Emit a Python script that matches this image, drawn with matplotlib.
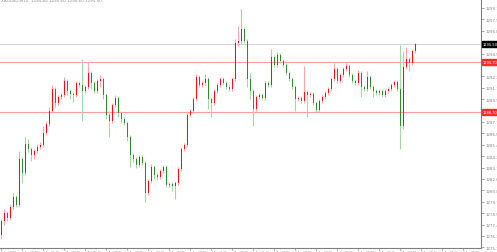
import numpy as np
import matplotlib
matplotlib.use("Agg")
import matplotlib.pyplot as plt

# XAUUSD M15 candles (price units)
opens = [1276.4, 1277.8, 1278.6, 1278.1, 1279.2, 1280.2, 1279.4, 1284.0, 1282.6, 1285.5,
         1285.0, 1284.4, 1284.8, 1285.2, 1285.4, 1286.6, 1287.5, 1288.8, 1291.0, 1289.6,
         1290.2, 1290.4, 1291.8, 1290.8, 1290.5, 1290.4, 1291.6, 1291.4, 1290.8, 1291.2,
         1292.6, 1291.6, 1290.8, 1291.8, 1292.0, 1290.4, 1288.4, 1287.8, 1289.4, 1290.1,
         1288.6, 1288.0, 1287.6, 1286.2, 1284.4, 1284.0, 1283.4, 1284.2, 1283.6, 1280.6,
         1281.8, 1283.2, 1282.4, 1282.2, 1282.8, 1283.2, 1281.4, 1281.5, 1281.3, 1281.6,
         1283.0, 1285.0, 1285.4, 1288.4, 1288.8, 1290.0, 1292.2, 1291.4, 1291.6, 1292.0,
         1290.0, 1289.6, 1290.8, 1291.4, 1292.0, 1291.6, 1291.2, 1291.0, 1292.0, 1295.6,
         1295.8, 1297.0, 1295.8, 1292.0, 1290.8, 1289.0, 1290.2, 1290.4, 1290.1, 1291.6,
         1291.4, 1294.2, 1293.4, 1294.4, 1293.8, 1293.4, 1292.6, 1292.0, 1291.2, 1290.0,
         1290.1, 1289.8, 1290.7, 1290.4, 1290.5, 1289.6, 1288.9, 1289.8, 1290.2, 1290.6,
         1291.0, 1292.0, 1293.0, 1291.8, 1292.4, 1293.0, 1293.3, 1292.4, 1291.8, 1291.6,
         1292.6, 1291.2, 1291.0, 1292.2, 1291.2, 1290.8, 1290.6, 1290.8, 1290.4, 1290.8,
         1291.0, 1291.4, 1291.7, 1291.0, 1287.3, 1293.2, 1294.0, 1293.6, 1294.8]
closes = [1277.8, 1278.6, 1278.1, 1279.2, 1280.2, 1279.4, 1284.0, 1282.6, 1285.5, 1285.0,
          1284.4, 1284.8, 1285.2, 1285.4, 1286.6, 1287.5, 1288.8, 1291.0, 1289.6, 1290.2,
          1290.4, 1291.8, 1290.8, 1290.5, 1290.4, 1291.6, 1291.4, 1290.8, 1291.2, 1292.6,
          1291.6, 1290.8, 1291.8, 1292.0, 1290.4, 1288.4, 1287.8, 1289.4, 1290.1, 1288.6,
          1288.0, 1287.6, 1286.2, 1284.4, 1284.0, 1283.4, 1284.2, 1283.6, 1280.6, 1281.8,
          1283.2, 1282.4, 1282.2, 1282.8, 1283.2, 1281.4, 1281.5, 1281.3, 1281.6, 1283.0,
          1285.0, 1285.4, 1288.4, 1288.8, 1290.0, 1292.2, 1291.4, 1291.6, 1292.0, 1290.0,
          1289.6, 1290.8, 1291.4, 1292.0, 1291.6, 1291.2, 1291.0, 1292.0, 1295.6, 1295.8,
          1297.0, 1295.8, 1292.0, 1290.8, 1289.0, 1290.2, 1290.4, 1290.1, 1291.6, 1291.4,
          1294.2, 1293.4, 1294.4, 1293.8, 1293.4, 1292.6, 1292.0, 1291.2, 1290.0, 1290.1,
          1289.8, 1290.7, 1290.4, 1290.5, 1289.6, 1288.9, 1289.8, 1290.2, 1290.6, 1291.0,
          1292.0, 1293.0, 1291.8, 1292.4, 1293.0, 1293.3, 1292.4, 1291.8, 1291.6, 1292.6,
          1291.2, 1291.0, 1292.2, 1291.2, 1290.8, 1290.6, 1290.8, 1290.4, 1290.8, 1291.0,
          1291.4, 1291.7, 1291.0, 1287.3, 1293.2, 1294.0, 1293.6, 1294.8, 1295.5]
highs = [1278.0, 1279.0, 1278.8, 1279.5, 1280.6, 1280.4, 1284.8, 1284.2, 1286.2, 1286.0,
         1285.2, 1285.0, 1285.5, 1285.7, 1287.3, 1287.8, 1289.2, 1291.4, 1291.2, 1290.4,
         1290.6, 1292.2, 1292.0, 1291.0, 1290.7, 1291.8, 1291.8, 1294.0, 1291.4, 1293.7,
         1292.8, 1291.8, 1292.0, 1292.4, 1292.2, 1290.6, 1288.8, 1289.6, 1290.4, 1290.3,
         1288.8, 1288.2, 1287.8, 1286.4, 1284.6, 1284.2, 1284.4, 1284.4, 1283.8, 1282.0,
         1283.5, 1283.4, 1282.6, 1283.0, 1283.4, 1283.4, 1281.7, 1281.7, 1281.8, 1283.2,
         1285.2, 1285.6, 1288.8, 1289.0, 1290.2, 1292.5, 1292.4, 1291.8, 1292.5, 1292.2,
         1290.2, 1291.0, 1291.6, 1292.2, 1292.2, 1291.8, 1291.4, 1292.2, 1296.0, 1297.3,
         1299.0, 1297.2, 1296.0, 1292.6, 1291.0, 1290.4, 1290.6, 1290.6, 1291.8, 1291.8,
         1295.0, 1294.4, 1294.7, 1294.6, 1294.0, 1293.6, 1292.8, 1292.2, 1291.4, 1290.3,
         1290.3, 1293.3, 1290.9, 1290.7, 1290.7, 1289.8, 1290.0, 1290.4, 1290.8, 1291.2,
         1292.2, 1293.6, 1293.2, 1292.6, 1293.2, 1293.6, 1293.5, 1292.6, 1292.0, 1292.9,
         1292.8, 1291.4, 1292.8, 1292.4, 1291.4, 1291.0, 1291.0, 1291.0, 1291.0, 1291.2,
         1291.6, 1291.9, 1291.9, 1295.4, 1294.8, 1295.2, 1294.2, 1295.0, 1295.6]
lows = [1276.0, 1277.4, 1277.8, 1277.9, 1279.0, 1279.2, 1279.2, 1281.6, 1282.4, 1284.7,
        1283.8, 1284.0, 1284.6, 1285.0, 1285.2, 1286.4, 1287.3, 1288.6, 1289.2, 1289.4,
        1290.0, 1290.2, 1290.4, 1290.0, 1289.7, 1290.2, 1291.2, 1287.8, 1290.6, 1291.0,
        1291.0, 1290.6, 1290.6, 1291.2, 1290.0, 1288.0, 1286.2, 1287.6, 1289.2, 1288.2,
        1287.6, 1287.4, 1285.8, 1283.2, 1283.7, 1283.1, 1283.2, 1283.4, 1279.7, 1280.4,
        1281.6, 1282.0, 1281.9, 1282.0, 1282.6, 1281.2, 1281.2, 1280.8, 1280.0, 1281.4,
        1282.8, 1284.8, 1285.2, 1288.2, 1288.6, 1289.8, 1291.2, 1291.2, 1291.4, 1289.0,
        1288.2, 1289.4, 1290.6, 1291.2, 1291.4, 1291.0, 1290.8, 1290.8, 1291.8, 1295.3,
        1295.5, 1295.6, 1291.2, 1290.0, 1287.3, 1288.8, 1290.0, 1289.9, 1289.9, 1291.2,
        1291.2, 1293.2, 1293.2, 1293.6, 1293.2, 1292.4, 1291.8, 1291.0, 1288.8, 1289.8,
        1289.6, 1289.6, 1288.2, 1290.2, 1289.4, 1288.7, 1288.7, 1289.6, 1290.0, 1290.4,
        1290.8, 1291.8, 1291.6, 1291.6, 1292.2, 1292.8, 1292.2, 1291.6, 1291.4, 1291.4,
        1290.2, 1290.8, 1290.8, 1291.0, 1290.2, 1290.4, 1290.4, 1290.2, 1290.2, 1290.6,
        1290.8, 1291.2, 1290.8, 1285.0, 1287.0, 1293.0, 1292.8, 1293.4, 1294.6]

# horizontal levels drawn on the chart
levels = [1293.70, 1288.70]
current_price = 1295.50

price_ticks = [1299.10, 1297.96, 1296.82, 1295.68, 1294.54, 1293.40, 1292.26, 1291.12,
               1289.98, 1288.84, 1287.70, 1286.56, 1285.42, 1284.28, 1283.14, 1282.00,
               1280.86, 1279.72, 1278.58, 1277.44, 1276.30, 1275.16]
time_labels = ["2 Apr 2019", "2 Apr 16:00", "2 Apr 21:15", "3 Apr 02:30", "3 Apr 07:45",
               "3 Apr 13:00", "3 Apr 18:15", "3 Apr 23:30", "4 Apr 04:45", "4 Apr 10:00",
               "4 Apr 15:15", "4 Apr 20:30", "5 Apr 01:45", "5 Apr 07:00", "5 Apr 12:15",
               "5 Apr 17:30", "5 Apr 22:45", "8 Apr 04:00", "8 Apr 09:15", "8 Apr 14:30",
               "8 Apr 19:45", "9 Apr 01:00", "9 Apr 06:15"]

W, H = 497, 253
fig = plt.figure(figsize=(W / 100, H / 100), dpi=100)
ax = fig.add_axes([0, 4.5 / H, 481 / W, 248.5 / H])

up_body, dn_body = "#f0101c", "#2a8c2a"
up_wick, dn_wick = "#f7a8a8", "#a9d6a9"

o = np.array(opens)
c = np.array(closes)
hi = np.array(highs)
lo = np.array(lows)
x = np.arange(len(c))
up = c >= o

ax.vlines(x[up], lo[up], hi[up], color=up_wick, lw=0.8, zorder=2)
ax.vlines(x[~up], lo[~up], hi[~up], color=dn_wick, lw=0.8, zorder=2)
body_h = np.maximum(np.abs(c - o), 0.12)
ax.bar(x[up], body_h[up], bottom=np.minimum(o, c)[up], width=0.65, color=up_body, lw=0, zorder=3)
ax.bar(x[~up], body_h[~up], bottom=np.minimum(o, c)[~up], width=0.65, color=dn_body, lw=0, zorder=3)

for lv in levels:
    ax.axhline(lv, color="#ff9c9c", lw=0.8, zorder=1)
ax.axhline(current_price, color="#d4d4d4", lw=0.8, zorder=1)

ax.set_xlim(-0.5, (481 - 1.5) / 3)
ax.set_ylim(1275.15, 1300.0)

for s in ["left", "top"]:
    ax.spines[s].set_visible(False)
for s in ["right", "bottom"]:
    ax.spines[s].set_color("#808080")
    ax.spines[s].set_linewidth(0.8)

# tick labels that sit under a price box are hidden, as in the terminal
boxed = levels + [current_price]
ylabels = ["" if min(abs(t - b) for b in boxed) < 0.5 else "%.2f" % t for t in price_ticks]
ax.yaxis.tick_right()
ax.set_yticks(price_ticks)
ax.set_yticklabels(ylabels)
ax.tick_params(axis="y", labelsize=2.8, colors="#808080", length=2, width=0.5, pad=1)

ax.set_xticks(np.arange(len(time_labels)) * 7)
ax.set_xticklabels(time_labels, ha="left")
ax.tick_params(axis="x", labelsize=2.0, colors="#808080", length=1.5, width=0.5, pad=0.1)

# price boxes on the axis
def price_box(p, face):
    ax.annotate("%.2f" % p, xy=(1.0, p), xycoords=("axes fraction", "data"),
                xytext=(1.5, 0), textcoords="offset points", fontsize=2.6, color="white",
                va="center", ha="left",
                bbox=dict(boxstyle="square,pad=0.2", fc=face, ec=face), zorder=10,
                annotation_clip=False)

for lv in levels:
    price_box(lv, "#ff2a2a")
price_box(current_price, "#000000")

fig.text(0.002, 0.995, "XAUUSD,M15  1294.80 1295.60 1294.60 1295.50", fontsize=3,
         color="#909090", va="center", ha="left")

fig.savefig("out.png", dpi=100, facecolor="white")
